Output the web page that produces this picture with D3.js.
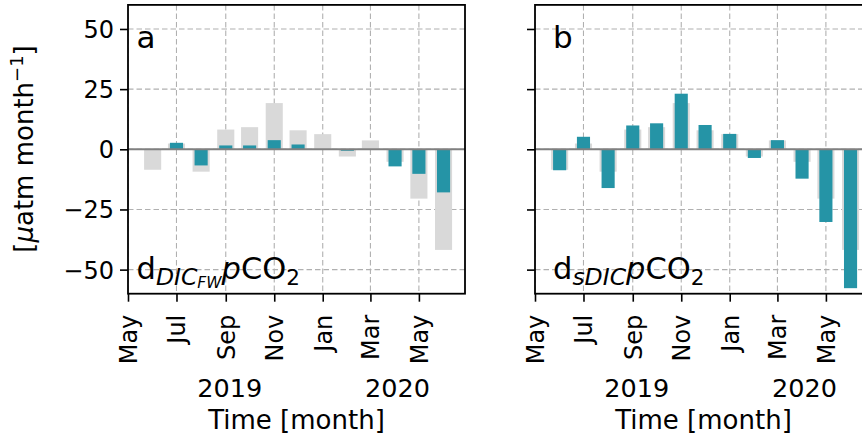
<!DOCTYPE html>
<html>
<head>
<meta charset="utf-8">
<script src="https://cdn.jsdelivr.net/npm/d3@7"></script>
<style>
  html, body { margin: 0; padding: 0; background: #fff; }
  svg { display: block; font-family: "DejaVu Sans", sans-serif; }
</style>
</head>
<body>
<svg id="chart" width="862" height="439"></svg>
<script>
// ---- data ----
const months = ["2019-06-01","2019-07-01","2019-08-01","2019-09-01","2019-10-01","2019-11-01",
                "2019-12-01","2020-01-01","2020-02-01","2020-03-01","2020-04-01","2020-05-01","2020-06-01"];
const totalValues = [-8.5, 2.4, -9.3, 8.2, 9.2, 19.2, 7.9, 6.3, -3.0, 3.7, -5.2, -20.5, -41.8];
const dicFwValues = [0, 2.7, -6.7, 1.6, 1.6, 3.8, 2.0, 0, -0.6, 0, -7.1, -10.2, -17.9];
const sDicValues  = [-8.7, 5.2, -16.1, 9.9, 10.8, 23.1, 10.1, 6.4, -3.6, 3.8, -12.2, -30.2, -57.7];
const yTicks = [-50, -25, 0, 25, 50];
const xTickDates = ["2019-05-01","2019-07-01","2019-09-01","2019-11-01","2020-01-01","2020-03-01","2020-05-01"];
const yearLabels = [{label: "2019", date: "2019-09-06"}, {label: "2020", date: "2020-04-04"}];
const xDomain = ["2019-05-01", "2020-06-28"];
const yDomain = [-60, 60];

const parse = d3.utcParse("%Y-%m-%d");
const fmt = d3.utcFormat("%b");
const svg = d3.select("#chart");

const plotTop = 4.9, plotBottom = 293.7;
const y = d3.scaleLinear().domain(yDomain).range([plotBottom, plotTop]);
const DAY = 86400000;

const panels = [
  {left: 128, right: 465, letter: "a", teal: dicFwValues, showYLabels: true, textDx: 8.5,
   sub: [{t: "DIC", italic: true}, {t: "FW", italic: true, subsub: true}]},
  {left: 535, right: 872, letter: "b", teal: sDicValues, showYLabels: false, textDx: 18,
   sub: [{t: "sDIC", italic: true}]}
];

const teal = "#2594a6";
const gray = "#d9d9d9";

panels.forEach(p => {
  const x = d3.scaleUtc().domain(xDomain.map(parse)).range([p.left, p.right]);
  const g = svg.append("g");
  const clipId = "clip-" + p.letter;
  svg.append("clipPath").attr("id", clipId)
    .append("rect").attr("x", p.left).attr("y", plotTop).attr("width", p.right - p.left).attr("height", plotBottom - plotTop);
  const plot = g.append("g").attr("clip-path", `url(#${clipId})`);

  // grid
  plot.selectAll(".vg").data(xTickDates.map(parse)).join("line")
    .attr("x1", d => x(d)).attr("x2", d => x(d)).attr("y1", plotTop).attr("y2", plotBottom)
    .attr("stroke", "#b0b0b0").attr("stroke-width", 1.1).attr("stroke-dasharray", "5.5,3");
  plot.selectAll(".hg").data(yTicks).join("line")
    .attr("x1", p.left).attr("x2", p.right).attr("y1", d => y(d)).attr("y2", d => y(d))
    .attr("stroke", "#b0b0b0").attr("stroke-width", 1.1).attr("stroke-dasharray", "5.5,3");

  const dates = months.map(parse);
  const grayW = 21.5 * DAY, tealW = 16.5 * DAY;
  plot.selectAll(".gb").data(totalValues).join("rect")
    .attr("x", (d, i) => x(new Date(+dates[i] - grayW / 2)))
    .attr("width", (d, i) => x(new Date(+dates[i] + grayW / 2)) - x(new Date(+dates[i] - grayW / 2)))
    .attr("y", d => y(Math.max(0, d)))
    .attr("height", d => Math.abs(y(d) - y(0)))
    .attr("fill", gray);
  plot.selectAll(".tb").data(p.teal).join("rect")
    .attr("x", (d, i) => x(new Date(+dates[i] - tealW / 2)))
    .attr("width", (d, i) => x(new Date(+dates[i] + tealW / 2)) - x(new Date(+dates[i] - tealW / 2)))
    .attr("y", d => y(Math.max(0, d)))
    .attr("height", d => Math.abs(y(d) - y(0)))
    .attr("fill", teal);

  // zero line
  plot.append("line").attr("x1", p.left).attr("x2", p.right).attr("y1", y(0)).attr("y2", y(0))
    .attr("stroke", "#808080").attr("stroke-width", 2);

  // frame
  g.append("rect").attr("x", p.left).attr("y", plotTop).attr("width", p.right - p.left).attr("height", plotBottom - plotTop)
    .attr("fill", "none").attr("stroke", "#000").attr("stroke-width", 1.8);

  // y axis
  const yAxis = d3.axisLeft(y).tickValues(yTicks).tickSize(8).tickPadding(6)
    .tickFormat(d => p.showYLabels ? (d < 0 ? "\u2212" + Math.abs(d) : d) : "");
  const ya = g.append("g").attr("transform", `translate(${p.left},0)`).call(yAxis);
  ya.select(".domain").remove();
  ya.selectAll(".tick line").attr("stroke-width", 1.6);
  ya.selectAll(".tick text").attr("font-size", 24).attr("fill", "#000")
    .attr("font-family", "DejaVu Sans").attr("dy", "0.35em");

  // x axis
  const xAxis = d3.axisBottom(x).tickValues(xTickDates.map(parse)).tickSize(8).tickFormat(fmt);
  const xa = g.append("g").attr("transform", `translate(0,${plotBottom})`).call(xAxis);
  xa.select(".domain").remove();
  xa.selectAll(".tick line").attr("stroke-width", 1.6);
  xa.selectAll(".tick text").attr("font-size", 24).attr("fill", "#000")
    .attr("font-family", "DejaVu Sans")
    .attr("text-anchor", "end").attr("dy", null).attr("y", 0)
    .attr("transform", "translate(8.3,21) rotate(-90)");

  // years
  g.selectAll(".yr").data(yearLabels).join("text")
    .attr("x", d => x(parse(d.date))).attr("y", 396.5)
    .attr("text-anchor", "middle").attr("font-size", 25.5).text(d => d.label);

  // x label
  g.append("text").attr("x", (p.left + p.right) / 2).attr("y", 428.5)
    .attr("text-anchor", "middle").attr("font-size", 26).text("Time [month]");

  // panel letter
  g.append("text").attr("x", p.left + p.textDx).attr("y", 47.5).attr("font-size", 31).text(p.letter);

  // annotation
  const t = g.append("text").attr("x", p.left + p.textDx).attr("y", 279).attr("font-size", 30.5);
  t.append("tspan").text("d");
  p.sub.forEach(s => {
    t.append("tspan").attr("font-size", s.subsub ? 15.5 : 23.5)
      .attr("font-style", s.italic ? "italic" : null)
      .attr("dy", s.subsub ? 2.5 : 6).text(s.t);
  });
  const back = p.sub.reduce((a, s) => a + (s.subsub ? 2.5 : 6), 0);
  t.append("tspan").attr("dy", -back).attr("font-style", "italic").text("p");
  t.append("tspan").text("CO");
  t.append("tspan").attr("font-size", 21.5).attr("dy", 6).text("2");
});

// y label
svg.append("text").attr("transform", "translate(33,149) rotate(-90)")
  .attr("text-anchor", "middle").attr("font-size", 26)
  .call(tx => {
    tx.append("tspan").text("[");
    tx.append("tspan").attr("font-style", "italic").text("\u03bc");
    tx.append("tspan").text("atm month");
    tx.append("tspan").attr("font-size", 18).attr("dy", -10).text("\u22121");
    tx.append("tspan").attr("dy", 10).text("]");
  });
</script>
</body>
</html>
